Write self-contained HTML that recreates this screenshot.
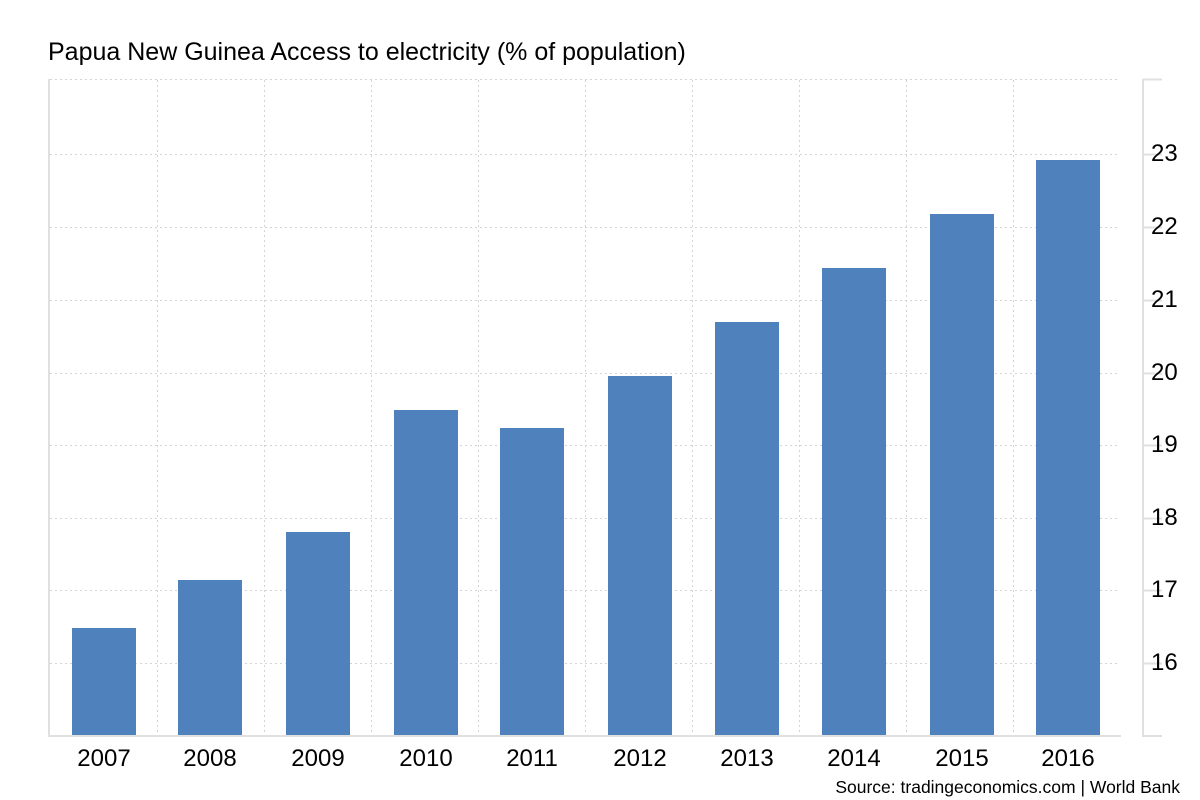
<!DOCTYPE html>
<html><head><meta charset="utf-8"><style>body{margin:0;background:#fff}svg{display:block}text{font-family:"Liberation Sans",Arial,sans-serif;fill:#000}</style></head><body>
<svg width="1200" height="800" viewBox="0 0 1200 800" xmlns="http://www.w3.org/2000/svg">
<text x="48" y="60" font-size="25">Papua New Guinea Access to electricity (% of population)</text>
<g stroke="#d4d4d4" stroke-width="1" stroke-dasharray="2,3">
<line x1="50" x2="1120" y1="79.5" y2="79.5"/>
<line x1="50" x2="1120" y1="154.5" y2="154.5"/>
<line x1="50" x2="1120" y1="227.5" y2="227.5"/>
<line x1="50" x2="1120" y1="300.5" y2="300.5"/>
<line x1="50" x2="1120" y1="373.5" y2="373.5"/>
<line x1="50" x2="1120" y1="445.5" y2="445.5"/>
<line x1="50" x2="1120" y1="518.5" y2="518.5"/>
<line x1="50" x2="1120" y1="590.5" y2="590.5"/>
<line x1="50" x2="1120" y1="663.5" y2="663.5"/>
<line x1="157.5" x2="157.5" y1="80" y2="736"/>
<line x1="264.5" x2="264.5" y1="80" y2="736"/>
<line x1="371.5" x2="371.5" y1="80" y2="736"/>
<line x1="478.5" x2="478.5" y1="80" y2="736"/>
<line x1="585.5" x2="585.5" y1="80" y2="736"/>
<line x1="692.5" x2="692.5" y1="80" y2="736"/>
<line x1="799.5" x2="799.5" y1="80" y2="736"/>
<line x1="906.5" x2="906.5" y1="80" y2="736"/>
<line x1="1013.5" x2="1013.5" y1="80" y2="736"/>
</g>
<g fill="#4f81bd">
<rect x="72" y="628" width="64" height="108"/>
<rect x="178" y="580" width="64" height="156"/>
<rect x="286" y="532" width="64" height="204"/>
<rect x="394" y="410" width="64" height="326"/>
<rect x="500" y="428" width="64" height="308"/>
<rect x="608" y="376" width="64" height="360"/>
<rect x="715" y="322" width="64" height="414"/>
<rect x="822" y="268" width="64" height="468"/>
<rect x="930" y="214" width="64" height="522"/>
<rect x="1036" y="160" width="64" height="576"/>
</g>
<g stroke="#e0e0e0" stroke-width="2" fill="none">
<line x1="49" x2="49" y1="79" y2="737"/>
<line x1="48" x2="1121" y1="736" y2="736"/>
<line x1="1143" x2="1143" y1="79" y2="737"/>
<line x1="1143" x2="1162" y1="79.5" y2="79.5"/>
<line x1="1143" x2="1162" y1="154.5" y2="154.5"/>
<line x1="1143" x2="1162" y1="227.5" y2="227.5"/>
<line x1="1143" x2="1162" y1="300.5" y2="300.5"/>
<line x1="1143" x2="1162" y1="373.5" y2="373.5"/>
<line x1="1143" x2="1162" y1="445.5" y2="445.5"/>
<line x1="1143" x2="1162" y1="518.5" y2="518.5"/>
<line x1="1143" x2="1162" y1="590.5" y2="590.5"/>
<line x1="1143" x2="1162" y1="663.5" y2="663.5"/>
<line x1="1143" x2="1162" y1="736" y2="736"/>
</g>
<g font-size="24">
<text x="1151" y="161">23</text>
<text x="1151" y="234">22</text>
<text x="1151" y="307">21</text>
<text x="1151" y="380">20</text>
<text x="1151" y="452">19</text>
<text x="1151" y="525">18</text>
<text x="1151" y="597">17</text>
<text x="1151" y="670">16</text>
</g>
<g font-size="24" text-anchor="middle">
<text x="104" y="766">2007</text>
<text x="210" y="766">2008</text>
<text x="318" y="766">2009</text>
<text x="426" y="766">2010</text>
<text x="532" y="766">2011</text>
<text x="640" y="766">2012</text>
<text x="747" y="766">2013</text>
<text x="854" y="766">2014</text>
<text x="962" y="766">2015</text>
<text x="1068" y="766">2016</text>
</g>
<text x="1180" y="793" font-size="17.5" text-anchor="end">Source: tradingeconomics.com | World Bank</text>
</svg>
</body></html>
